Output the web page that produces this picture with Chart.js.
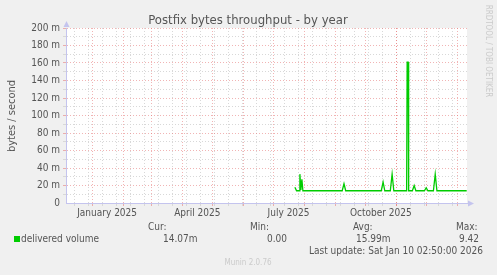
<!DOCTYPE html>
<html>
<head>
<meta charset="utf-8">
<script src="https://cdn.jsdelivr.net/npm/chart.js@4/dist/chart.umd.min.js"></script>
<style>
  html, body { margin: 0; background: #f0f0f0; }
  canvas { display: block; }
</style>
</head>
<body>
<canvas id="c" width="497" height="275"></canvas>
<script>
/* ─── data (x = days since start of window, y = bytes/s in milli) ─── */
const days   = [228.3, 230, 232.5, 233.3, 234.3, 235.3, 236.3, 275.5, 277.3, 279,
                314.5, 316.3, 318, 323.5, 325.3, 327, 339.8, 340.3, 341.3, 341.8,
                345.5, 347.3, 349, 357.5, 359.3, 361, 366.5, 368.3, 370, 399.7];
const volume = [18, 14, 14, 33, 15, 27, 14, 14, 22, 14,
                14, 24, 14, 14, 33, 14, 14, 161, 161, 14,
                14, 20, 14, 14, 17.5, 14, 14, 33, 14, 14];

/* ─── x axis: month starts, biweekly minor lines, quarter labels ─── */
const monthStarts = [26, 57, 85, 116, 146, 177, 207, 238, 269, 299, 330, 360, 391];
const minorDays   = [8, 22, 36, 50, 64, 78, 92, 106, 120, 134, 148, 162, 176, 190,
                     204, 218, 232, 246, 260, 274, 288, 302, 316, 330, 344, 358, 372, 386];
const labelDays   = [41, 131, 222, 314];
const labelTexts  = ['January 2025', 'April 2025', 'July 2025', 'October 2025'];

/* ─── legend table ─── */
const legendName = 'delivered volume';
const statHeads  = ['Cur:', 'Min:', 'Avg:', 'Max:'];
const statVals   = ['14.07m', '0.00', '15.99m', '9.42'];

const TITLE = 'Postfix bytes throughput - by year';
const FONT = '"DejaVu Sans Condensed", "DejaVu Sans", sans-serif';
const MAJOR = 'rgba(228,105,105,0.5)';
const MINOR = '#d8d8d8';
const AXIS  = '#c4c4ee';
const TEXT  = '#555';

const paper = {
    id: 'paper',
    beforeDraw(chart) {
        const { ctx, chartArea: a } = chart;
        ctx.save();
        ctx.fillStyle = '#f0f0f0';
        ctx.fillRect(0, 0, chart.width, chart.height);
        ctx.fillStyle = '#ffffff';
        ctx.fillRect(a.left, a.top, a.right - a.left, a.bottom - a.top);
        ctx.restore();
    },
    afterDraw(chart) {
        const { ctx, chartArea: a } = chart;
        ctx.save();
        /* axis arrows */
        ctx.fillStyle = AXIS;
        ctx.beginPath();
        ctx.moveTo(a.left + 0.5, a.top - 7);
        ctx.lineTo(a.left - 2.5, a.top - 1);
        ctx.lineTo(a.left + 3.5, a.top - 1);
        ctx.fill();
        ctx.beginPath();
        ctx.moveTo(a.right + 7, a.bottom + 0.5);
        ctx.lineTo(a.right + 1, a.bottom - 2.5);
        ctx.lineTo(a.right + 1, a.bottom + 3.5);
        ctx.fill();

        ctx.textBaseline = 'middle';
        ctx.fillStyle = TEXT;
        ctx.font = `13px ${FONT}`;
        ctx.textAlign = 'center';
        ctx.fillText(TITLE, 248, 21);

        /* y title */
        ctx.save();
        ctx.translate(12, 116);
        ctx.rotate(-Math.PI / 2);
        ctx.font = `11px ${FONT}`;
        ctx.fillText('bytes / second', 0, 0);
        ctx.restore();

        /* watermark */
        ctx.save();
        ctx.translate(488, 51);
        ctx.rotate(Math.PI / 2);
        ctx.fillStyle = '#cbcbcb';
        ctx.font = `8px ${FONT}`;
        ctx.fillText('RRDTOOL / TOBI OETIKER', 0, 0);
        ctx.restore();

        /* legend */
        ctx.fillStyle = '#00cc00';
        ctx.fillRect(14, 236, 6, 6);
        ctx.fillStyle = TEXT;
        ctx.font = `10px ${FONT}`;
        ctx.textAlign = 'left';
        ctx.fillText(legendName, 21, 239);
        const headX = [148, 250, 353, 456];
        const valX  = [163, 267, 356, 459];
        statHeads.forEach((h, i) => ctx.fillText(h, headX[i], 227.5));
        statVals.forEach((v, i) => ctx.fillText(v, valX[i], 239));
        ctx.fillText('Last update: Sat Jan 10 02:50:00 2026', 309, 251);

        ctx.textAlign = 'center';
        ctx.fillStyle = '#cbcbcb';
        ctx.font = `8px ${FONT}`;
        ctx.fillText('Munin 2.0.76', 248, 262.5);
        ctx.restore();
    },
};

function xGridColor(c) {
    const v = c.tick && c.tick.value;
    if (monthStarts.includes(v)) return MAJOR;
    if (minorDays.includes(v)) return MINOR;
    return 'transparent';
}
function yGridColor(c) {
    const v = c.tick && c.tick.value;
    if (v === 0) return 'transparent';
    return v % 20 ? MINOR : MAJOR;
}

new Chart(document.getElementById('c'), {
    type: 'line',
    data: {
        datasets: [{
            label: legendName,
            data: days.map((d, i) => ({ x: d, y: volume[i] })),
            borderColor: '#00cc00',
            borderWidth: 1.3,
            pointRadius: 0,
            tension: 0,
            fill: false,
        }],
    },
    options: {
        responsive: false,
        animation: false,
        events: [],
        layout: { padding: { top: 28, right: 30, left: 0, bottom: 0 } },
        plugins: { legend: { display: false }, tooltip: { enabled: false }, title: { display: false } },
        scales: {
            x: {
                type: 'linear',
                min: 0,
                max: 400,
                afterBuildTicks: axis => {
                    axis.ticks = [...monthStarts, ...minorDays, ...labelDays]
                        .sort((p, q) => p - q)
                        .map(v => ({ value: v }));
                },
                afterFit: s => { s.height = 72; },
                ticks: {
                    autoSkip: false,
                    maxRotation: 0,
                    padding: 1,
                    color: TEXT,
                    font: { family: FONT, size: 10 },
                    callback: v => {
                        const k = labelDays.indexOf(v);
                        return k >= 0 ? labelTexts[k] : '';
                    },
                },
                grid: { color: xGridColor, tickColor: xGridColor, tickLength: 3, lineWidth: 1 },
                border: { color: AXIS, width: 1, dash: [1, 2] },
            },
            y: {
                min: 0,
                max: 200,
                afterFit: s => { s.width = 66; },
                ticks: {
                    stepSize: 10,
                    autoSkip: false,
                    padding: 3,
                    color: TEXT,
                    font: { family: FONT, size: 10 },
                    callback: v => (v % 20 ? '' : (v ? v + ' m' : '0')),
                },
                grid: { color: yGridColor, tickColor: yGridColor, tickLength: 3, lineWidth: 1 },
                border: { color: AXIS, width: 1, dash: [1, 2] },
            },
        },
    },
    plugins: [paper],
});
</script>
</body>
</html>
